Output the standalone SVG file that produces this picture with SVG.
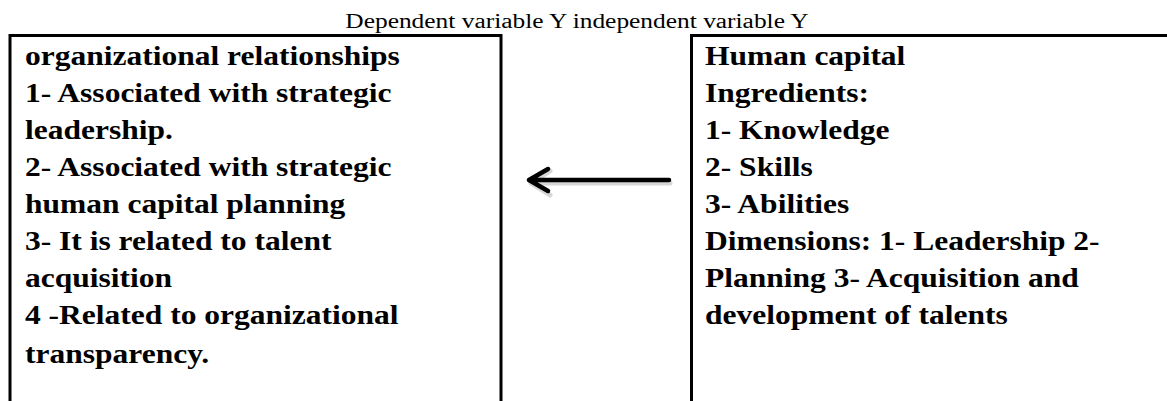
<svg xmlns="http://www.w3.org/2000/svg" width="1167" height="401" viewBox="0 0 1167 401">
<style>
.title{font-family:"Liberation Serif",serif;font-size:20px;fill:#000}
.body{font-family:"Liberation Serif",serif;font-size:27px;font-weight:bold;fill:#000}
.border{fill:none;stroke:#000;stroke-width:3}
.arrow{fill:none;stroke:#000;stroke-width:4.5;stroke-linecap:round;stroke-linejoin:round}
.shadow{fill:none;stroke:#bbb;stroke-width:5;stroke-linecap:round;stroke-linejoin:round;opacity:0.6}
</style>
<rect width="1167" height="401" fill="#fff"/>
<text class="title" transform="translate(577,0) scale(1.27,1)" x="0" y="28" text-anchor="middle">Dependent variable Y independent variable Y</text>
<g id="node-left">
<path class="border" d="M10,401 V35.5 H501 V401"/>
<text class="body" transform="translate(25,0) scale(1.167,1)">
<tspan x="0" y="65">organizational relationships</tspan>
<tspan x="0" y="102">1- Associated with strategic</tspan>
<tspan x="0" y="139">leadership.</tspan>
<tspan x="0" y="176">2- Associated with strategic</tspan>
<tspan x="0" y="213">human capital planning</tspan>
<tspan x="0" y="250">3- It is related to talent</tspan>
<tspan x="0" y="287">acquisition</tspan>
<tspan x="0" y="324">4 -Related to organizational</tspan>
<tspan x="0" y="363">transparency.</tspan>
</text>
</g>
<g id="node-right">
<path class="border" d="M691.5,401 V35.5 H1170"/>
<text class="body" transform="translate(705,0) scale(1.167,1)">
<tspan x="0" y="65">Human capital</tspan>
<tspan x="0" y="102">Ingredients:</tspan>
<tspan x="0" y="139">1- Knowledge</tspan>
<tspan x="0" y="176">2- Skills</tspan>
<tspan x="0" y="213">3- Abilities</tspan>
<tspan x="0" y="250">Dimensions: 1- Leadership 2-</tspan>
<tspan x="0" y="287">Planning 3- Acquisition and</tspan>
<tspan x="0" y="324">development of talents</tspan>
</text>
</g>
<g id="connectors">
<path class="shadow" d="M670,183 H531 M550,171 L531,183 L550,195"/>
<path class="arrow" d="M669,180 H529 M548,169 L529,180 L548,191"/>
</g>
</svg>
